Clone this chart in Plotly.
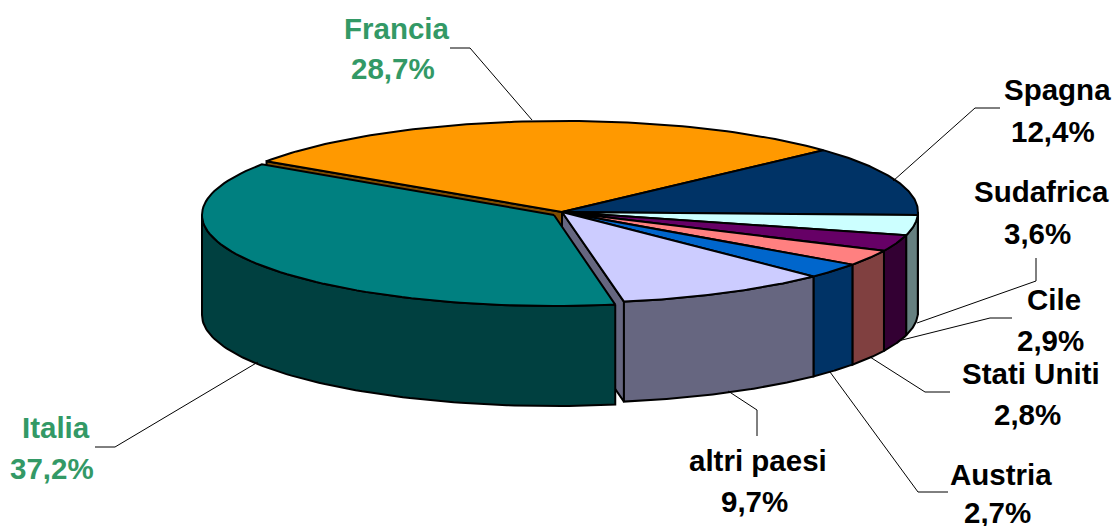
import numpy as np
import plotly.graph_objs as go

# share of each country, clockwise from the Italia / Francia edge
names = ["Francia", "Spagna", "Sudafrica", "Cile", "Stati Uniti", "Austria", "altri paesi", "Italia"]
values = [28.7, 12.4, 3.6, 2.9, 2.8, 2.7, 9.7, 37.2]
value_labels = ["28,7%", "12,4%", "3,6%", "2,9%", "2,8%", "2,7%", "9,7%", "37,2%"]
top_colors = ["#FF9900", "#003366", "#CCFFFF", "#660066", "#FF8080", "#0066CC", "#CCCCFF", "#008080"]
side_colors = ["#804D00", "#001A33", "#668080", "#330033", "#804040", "#003366", "#666680", "#004040"]
label_colors = ["#339966", "black", "black", "black", "black", "black", "black", "#339966"]

# pie geometry in pixels
cx, cy = 562, 212
rx, ry = 356, 91
depth = 100
start_angle = 146.1

# Italia is pulled out of the pie
italia_cx, italia_cy, italia_rx = 554, 215, 352

# centre x, y of first line, y of second line
label_pos = [
    (397, 28, 68), (1057, 89, 131), (1041, 191, 233), (1054, 299, 340),
    (1031, 373, 414), (1001, 474, 512), (758, 460, 501), (56, 427, 468),
]

leaders = [
    [(450, 48), (470, 48), (532, 120)],
    [(1000, 108), (975, 108), (893, 181)],
    [(1036, 258), (1036, 281), (917, 323)],
    [(1012, 318), (990, 318), (898, 341)],
    [(950, 392), (925, 392), (870, 357)],
    [(948, 492), (918, 492), (830, 372)],
    [(757, 436), (757, 410), (728, 391)],
    [(95, 447), (115, 447), (258, 362)],
]

fig = go.Figure()


def add_poly(xs, ys, color):
    fig.add_trace(go.Scatter(
        x=xs, y=ys, mode="lines", fill="toself", fillcolor=color,
        line=dict(color="black", width=2), hoverinfo="skip",
    ))


def arc(x0, y0, a, b, rad):
    t = np.radians(np.linspace(a, b, 80))
    return x0 + rad * np.cos(t), y0 - ry * np.sin(t)


angle = start_angle
for i, name in enumerate(names):
    a = angle
    b = angle - values[i] * 3.6
    angle = b
    x0, y0, rad = (italia_cx, italia_cy, italia_rx) if name == "Italia" else (cx, cy, rx)

    # cut faces next to the pulled out slice
    if name in ("Francia", "altri paesi"):
        edge = a if name == "Francia" else b
        ex, ey = arc(x0, y0, edge, edge, rad)
        add_poly([x0, ex[0], ex[0], x0, x0], [y0, ey[0], ey[0] + depth, y0 + depth, y0], side_colors[i])

    # outer wall, only the part below the horizontal is seen
    high, low = min(a, 0), max(b, -180)
    if high > low:
        wx, wy = arc(x0, y0, high, low, rad)
        add_poly(np.concatenate([wx, wx[::-1], wx[:1]]),
                 np.concatenate([wy, wy[::-1] + depth, wy[:1]]), side_colors[i])

    tx, ty = arc(x0, y0, a, b, rad)
    add_poly(np.concatenate([[x0], tx, [x0]]), np.concatenate([[y0], ty, [y0]]), top_colors[i])

for line in leaders:
    fig.add_trace(go.Scatter(
        x=[p[0] for p in line], y=[p[1] for p in line], mode="lines",
        line=dict(color="black", width=1), hoverinfo="skip",
    ))

for i, name in enumerate(names):
    x, y1, y2 = label_pos[i]
    for text, px, py in [(name, x, y1), (value_labels[i], x - 4, y2)]:
        fig.add_annotation(
            x=px, y=py, text="<b>" + text + "</b>", showarrow=False,
            xanchor="center", yanchor="middle",
            font=dict(family="Liberation Sans", size=29.5, color=label_colors[i]),
        )

fig.update_layout(
    width=1114, height=526, margin=dict(l=0, r=0, t=0, b=0),
    showlegend=False, paper_bgcolor="white", plot_bgcolor="white",
    xaxis=dict(range=[0, 1114], visible=False, fixedrange=True),
    yaxis=dict(range=[526, 0], visible=False, fixedrange=True),
)
fig.write_html("out.html", config={"displayModeBar": False},
               post_script="document.body.style.margin = '0';")
